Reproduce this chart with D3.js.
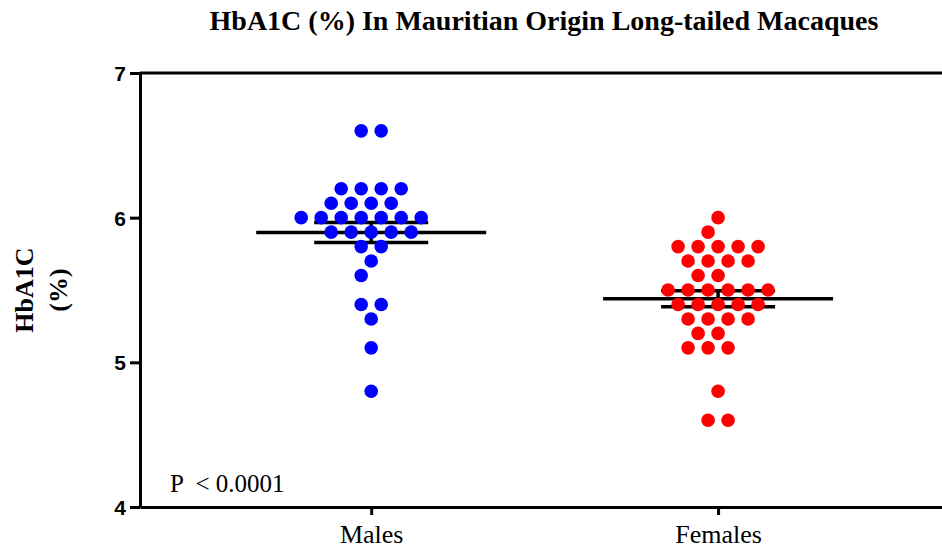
<!DOCTYPE html>
<html>
<head>
<meta charset="utf-8">
<script src="https://cdn.jsdelivr.net/npm/d3@7"></script>
<style>
  body { margin: 0; background: #fff; }
  svg { display: block; }
</style>
</head>
<body>
<div id="chart"></div>
<script>
// values
var groups = ["Males", "Females"];
var yTicks = [4, 5, 6, 7];
var malesHbA1c = [6.6, 6.6,
    6.2, 6.2, 6.2, 6.2,
    6.1, 6.1, 6.1, 6.1,
    6.0, 6.0, 6.0, 6.0, 6.0, 6.0, 6.0,
    5.9, 5.9, 5.9, 5.9, 5.9,
    5.8, 5.8, 5.7, 5.6, 5.4, 5.4, 5.3, 5.1, 4.8];
var femalesHbA1c = [6.0, 5.9,
    5.8, 5.8, 5.8, 5.8, 5.8,
    5.7, 5.7, 5.7, 5.7,
    5.6, 5.6,
    5.5, 5.5, 5.5, 5.5, 5.5, 5.5,
    5.4, 5.4, 5.4, 5.4, 5.4,
    5.3, 5.3, 5.3, 5.3,
    5.2, 5.2,
    5.1, 5.1, 5.1,
    4.8, 4.6, 4.6];
var groupColors = ["#0000ff", "#ff0000"];
var pValueText = "P  < 0.0001";

var width = 942, height = 550;
var plotLeft = 140, plotTop = 73, plotBottom = 507;
var dotR = 6.8, slot = 10;

var svg = d3.select("#chart").append("svg")
    .attr("width", width)
    .attr("height", height);

var x = d3.scalePoint().domain(groups).range([plotLeft, width]).padding(0.656).align(0.508);
var y = d3.scaleLinear().domain([4, 7]).range([plotBottom, plotTop]);

// column scatter: rows of equal value, dots 2 slots apart, no same slot as a neighbouring row
function swarm(values) {
    var rows = d3.groups(values, function (v) { return v; })
        .sort(function (a, b) { return b[0] - a[0]; });
    var placed = new Map();
    var out = [];
    var cands = d3.range(-20, 21).sort(function (a, b) { return Math.abs(a) - Math.abs(b) || a - b; });
    rows.forEach(function (row) {
        var k = Math.round(row[0] * 10);
        var near = [].concat(placed.get(k - 1) || [], placed.get(k + 1) || []);
        var chosen = [];
        cands.forEach(function (s) {
            if (chosen.length === row[1].length) return;
            if (near.indexOf(s) === -1 && chosen.every(function (c) { return Math.abs(c - s) >= 2; })) chosen.push(s);
        });
        var shift = -Math.round(d3.mean(chosen));
        if (shift !== 0) {
            var moved = chosen.map(function (c) { return c + shift; });
            if (moved.every(function (m) { return near.indexOf(m) === -1; })) chosen = moved;
        }
        placed.set(k, chosen);
        chosen.forEach(function (s) { out.push({ value: row[0], slot: s }); });
    });
    return out;
}

var series = [malesHbA1c, femalesHbA1c].map(function (vals, i) {
    return {
        name: groups[i],
        color: groupColors[i],
        points: swarm(vals),
        mean: d3.mean(vals),
        sem: d3.deviation(vals) / Math.sqrt(vals.length)
    };
});

// title
svg.append("text")
    .attr("x", 544)
    .attr("y", 30)
    .attr("text-anchor", "middle")
    .style("font-family", "'Liberation Serif', 'Times New Roman', serif")
    .style("font-weight", "bold")
    .style("font-size", "28px")
    .text("HbA1C (%) In Mauritian Origin Long-tailed Macaques");

// y label, two lines
var yLab = svg.append("g")
    .attr("transform", "translate(0," + (plotTop + plotBottom) / 2 + ") rotate(-90)")
    .style("font-family", "'Liberation Serif', 'Times New Roman', serif")
    .style("font-weight", "bold")
    .style("font-size", "26px")
    .attr("text-anchor", "middle");
yLab.append("text").attr("y", 33).text("HbA1C");
yLab.append("text").attr("y", 67).text("(%)");

// frame line on top
svg.append("line")
    .attr("x1", plotLeft).attr("x2", width)
    .attr("y1", y(7)).attr("y2", y(7))
    .style("stroke", "#000")
    .style("stroke-width", 3);

var yAxis = svg.append("g")
    .attr("transform", "translate(" + plotLeft + ",0)")
    .call(d3.axisLeft(y).tickValues(yTicks).tickFormat(d3.format("d")).tickSize(10).tickSizeOuter(0).tickPadding(4));
yAxis.selectAll("path, line").style("stroke", "#000").style("stroke-width", 3);
yAxis.selectAll("text")
    .style("font-family", "'Liberation Sans', Arial, sans-serif")
    .style("font-weight", "bold")
    .style("font-size", "21px")
    .attr("dy", "0.36em")
    .attr("fill", "#000");

var xAxis = svg.append("g")
    .attr("transform", "translate(0," + plotBottom + ")")
    .call(d3.axisBottom(x).tickSize(8).tickSizeOuter(0));
xAxis.selectAll("path, line").style("stroke", "#000").style("stroke-width", 3);
xAxis.selectAll("text")
    .attr("y", 36)
    .attr("dy", 0)
    .style("font-family", "'Liberation Serif', 'Times New Roman', serif")
    .style("font-size", "26px")
    .attr("fill", "#000");

// mean and SEM lines
var groupG = svg.selectAll(".grp")
    .data(series)
    .enter()
    .append("g")
    .attr("class", "grp")
    .attr("transform", function (d) { return "translate(" + x(d.name) + ",0)"; });

groupG.append("line")
    .attr("x1", -115).attr("x2", 115)
    .attr("y1", function (d) { return y(d.mean); })
    .attr("y2", function (d) { return y(d.mean); });
groupG.append("line")
    .attr("x1", -57).attr("x2", 57)
    .attr("y1", function (d) { return y(d.mean + d.sem); })
    .attr("y2", function (d) { return y(d.mean + d.sem); });
groupG.append("line")
    .attr("x1", -57).attr("x2", 57)
    .attr("y1", function (d) { return y(d.mean - d.sem); })
    .attr("y2", function (d) { return y(d.mean - d.sem); });
groupG.append("line")
    .attr("x1", 0).attr("x2", 0)
    .attr("y1", function (d) { return y(d.mean + d.sem); })
    .attr("y2", function (d) { return y(d.mean - d.sem); });
groupG.selectAll("line").style("stroke", "#000").style("stroke-width", 3.5);

groupG.selectAll("circle")
    .data(function (d) { return d.points.map(function (p) { return { value: p.value, slot: p.slot, color: d.color }; }); })
    .enter()
    .append("circle")
    .attr("cx", function (p) { return p.slot * slot; })
    .attr("cy", function (p) { return y(p.value); })
    .attr("r", dotR)
    .attr("fill", function (p) { return p.color; });

// p-value note
svg.append("text")
    .attr("x", 170)
    .attr("y", 492)
    .style("white-space", "pre")
    .style("font-family", "'Liberation Serif', 'Times New Roman', serif")
    .style("font-size", "25px")
    .text(pValueText);
</script>
</body>
</html>
